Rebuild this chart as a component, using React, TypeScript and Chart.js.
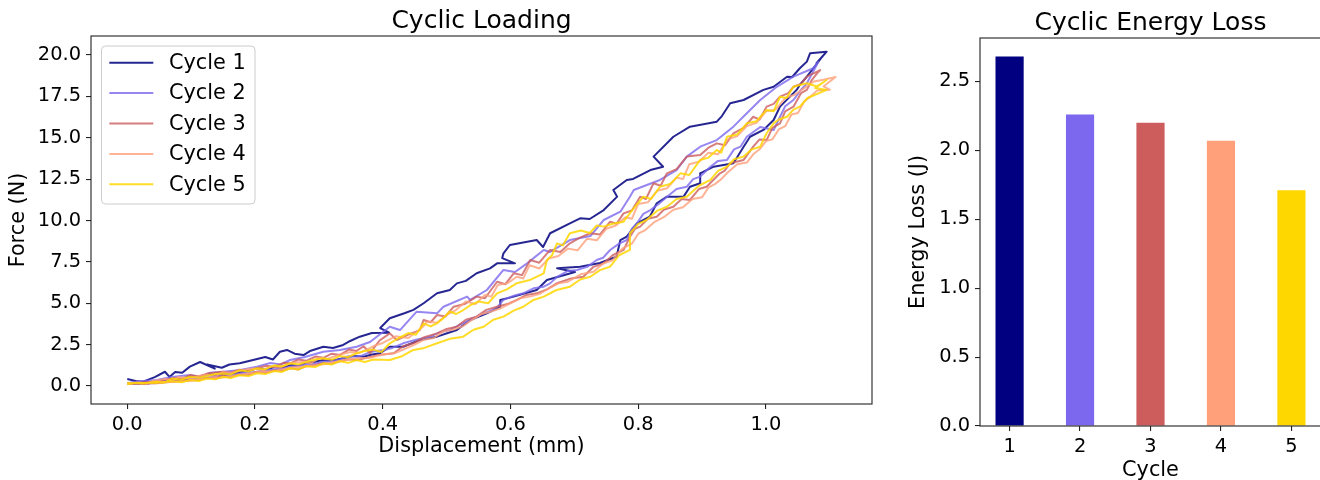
import React, { useEffect, useRef } from 'react';
import { Chart, registerables } from 'chart.js';

Chart.register(...registerables);

const FONT = '"DejaVu Sans", "Liberation Sans", sans-serif';

// ---------- data ----------
const cycleLabels = ['Cycle 1', 'Cycle 2', 'Cycle 3', 'Cycle 4', 'Cycle 5'];
const cycleColors = [
  'rgba(0,0,128,0.85)',
  'rgba(123,104,238,0.8)',
  'rgba(205,92,92,0.8)',
  'rgba(255,160,122,0.8)',
  'rgba(255,215,0,0.85)',
];

const cycle1Loading: [number, number][] = [
  [0.000, 0.42], [0.013, 0.30], [0.025, 0.26], [0.043, 0.54], [0.059, 0.86], [0.066, 0.55], [0.075, 0.85],
  [0.086, 0.80], [0.098, 1.17], [0.114, 1.45], [0.137, 1.05], [0.125, 1.30], [0.148, 1.10], [0.160, 1.30],
  [0.176, 1.37], [0.197, 1.57], [0.216, 1.75], [0.228, 1.60], [0.239, 2.07], [0.250, 2.18], [0.262, 1.95],
  [0.276, 1.87], [0.286, 2.11], [0.307, 2.37], [0.322, 2.30], [0.338, 2.48], [0.349, 2.72], [0.364, 2.98],
  [0.383, 3.20], [0.410, 3.22], [0.396, 3.50], [0.411, 4.09], [0.435, 4.41], [0.448, 4.60], [0.464, 5.00],
  [0.485, 5.60], [0.505, 5.80], [0.516, 6.20], [0.530, 6.35], [0.547, 6.81], [0.568, 7.11], [0.579, 7.41],
  [0.607, 7.41], [0.587, 7.73], [0.589, 8.02], [0.599, 8.52], [0.641, 8.82], [0.651, 8.40], [0.662, 9.23],
  [0.693, 9.83], [0.709, 10.13], [0.724, 10.09], [0.746, 10.63], [0.767, 11.44], [0.761, 11.84], [0.782, 12.45],
  [0.792, 12.51], [0.819, 13.05], [0.839, 13.25], [0.824, 13.86], [0.855, 15.06], [0.881, 15.67], [0.923, 15.97],
  [0.931, 16.31], [0.944, 17.08], [0.965, 17.28], [0.996, 17.89], [1.012, 18.08], [1.033, 18.69], [1.041, 18.67],
  [1.053, 19.20], [1.064, 19.60], [1.069, 20.10], [1.095, 20.20],
];
const cycle1Unloading: [number, number][] = [
  [1.079, 19.50], [1.089, 19.94], [1.064, 18.69], [1.053, 18.19], [1.048, 17.89], [1.022, 16.88], [1.012, 16.07],
  [0.996, 15.47], [0.975, 15.06], [0.965, 14.46], [0.949, 13.46], [0.918, 13.25], [0.897, 12.85], [0.897, 12.25],
  [0.881, 12.04], [0.871, 11.44], [0.845, 11.44], [0.829, 11.04], [0.818, 10.23], [0.798, 9.83], [0.782, 9.02],
  [0.772, 8.82], [0.766, 7.81], [0.740, 7.43], [0.709, 7.21], [0.673, 7.11], [0.701, 6.89], [0.657, 6.40],
  [0.641, 5.80], [0.605, 5.40], [0.584, 5.20], [0.584, 4.79], [0.563, 4.39], [0.537, 3.99], [0.516, 3.38],
  [0.485, 2.98], [0.458, 2.78], [0.432, 2.37], [0.411, 2.37], [0.396, 1.98], [0.383, 1.90], [0.370, 1.77],
  [0.355, 1.82], [0.340, 1.70], [0.323, 1.55], [0.307, 1.57], [0.292, 1.45], [0.280, 1.40], [0.268, 1.22],
  [0.255, 1.27], [0.242, 1.10], [0.230, 1.15], [0.216, 0.98], [0.203, 1.07], [0.190, 0.90], [0.175, 0.85],
  [0.162, 0.72], [0.150, 0.77], [0.138, 0.62], [0.125, 0.70], [0.110, 0.52], [0.098, 0.56], [0.085, 0.38],
  [0.070, 0.40], [0.058, 0.30], [0.046, 0.26], [0.030, 0.14], [0.009, 0.16],
];

const cycle2Loading: [number, number][] = [
  [0.004, 0.20], [0.025, 0.30], [0.046, 0.36], [0.070, 0.55], [0.098, 0.66], [0.114, 0.54], [0.130, 0.80],
  [0.150, 0.86], [0.175, 0.95], [0.203, 1.17], [0.224, 1.39], [0.240, 1.30], [0.255, 1.57], [0.278, 1.75],
  [0.307, 2.07], [0.333, 2.18], [0.359, 2.37], [0.380, 2.66], [0.411, 3.58], [0.427, 3.38], [0.453, 4.49],
  [0.485, 4.39], [0.495, 4.79], [0.532, 5.40], [0.537, 5.20], [0.563, 5.80], [0.589, 7.01], [0.607, 6.89],
  [0.626, 7.41], [0.652, 8.22], [0.662, 8.10], [0.693, 8.82], [0.725, 9.06], [0.746, 10.03], [0.772, 10.53],
  [0.787, 11.44], [0.793, 11.84], [0.834, 12.45], [0.860, 13.05], [0.876, 13.86], [0.897, 14.46], [0.923, 14.86],
  [0.949, 15.67], [0.970, 16.48], [0.991, 17.28], [1.017, 18.08], [1.043, 18.69], [1.074, 19.20], [1.082, 19.58],
];
const cycle2Unloading: [number, number][] = [
  [1.064, 18.29], [1.055, 17.90], [1.043, 17.28], [1.030, 16.90], [1.022, 16.27], [1.012, 15.47], [0.991, 15.65],
  [0.970, 15.06], [0.960, 14.46], [0.950, 14.30], [0.939, 13.66], [0.925, 13.60], [0.913, 13.25], [0.897, 12.65],
  [0.886, 12.50], [0.876, 12.04], [0.860, 11.90], [0.845, 11.44], [0.832, 11.00], [0.819, 10.63], [0.808, 10.40],
  [0.798, 9.83], [0.790, 9.50], [0.782, 8.82], [0.770, 8.60], [0.756, 8.22], [0.745, 7.75], [0.735, 7.61],
  [0.720, 7.20], [0.704, 7.01], [0.690, 6.95], [0.673, 6.60], [0.662, 6.20], [0.652, 6.00], [0.636, 5.90],
  [0.620, 5.60], [0.605, 5.45], [0.589, 5.20], [0.580, 4.80], [0.573, 4.59], [0.555, 4.35], [0.537, 3.99],
  [0.520, 3.70], [0.505, 3.38], [0.490, 3.25], [0.474, 2.98], [0.452, 2.80], [0.432, 2.58], [0.415, 2.30],
  [0.401, 2.18], [0.380, 2.05], [0.368, 1.85], [0.359, 1.77], [0.346, 1.80], [0.333, 1.62], [0.320, 1.50],
  [0.307, 1.47], [0.294, 1.35], [0.280, 1.30], [0.268, 1.22], [0.255, 1.17], [0.242, 1.05], [0.230, 1.00],
  [0.216, 0.95], [0.203, 0.86], [0.190, 0.80], [0.175, 0.76], [0.162, 0.62], [0.150, 0.66], [0.135, 0.55],
  [0.120, 0.52], [0.098, 0.47], [0.085, 0.32], [0.070, 0.35], [0.046, 0.26], [0.009, 0.12],
];

const cycle3Loading: [number, number][] = [
  [0.000, 0.20], [0.015, 0.12], [0.025, 0.22], [0.046, 0.26], [0.060, 0.40], [0.075, 0.48], [0.085, 0.42],
  [0.098, 0.66], [0.112, 0.58], [0.125, 0.75], [0.150, 0.86], [0.162, 0.80], [0.175, 0.98], [0.190, 0.92],
  [0.203, 1.07], [0.218, 1.22], [0.230, 1.15], [0.245, 1.40], [0.255, 1.37], [0.268, 1.60], [0.280, 1.52],
  [0.295, 1.78], [0.307, 1.70], [0.320, 1.95], [0.333, 1.88], [0.347, 2.20], [0.359, 2.12], [0.370, 2.40],
  [0.380, 1.99], [0.395, 2.75], [0.411, 3.18], [0.422, 2.78], [0.440, 3.10], [0.458, 3.38], [0.464, 3.99],
  [0.475, 3.85], [0.485, 4.29], [0.498, 4.20], [0.511, 4.79], [0.528, 4.95], [0.547, 5.40], [0.560, 5.30],
  [0.579, 6.30], [0.592, 6.15], [0.605, 6.81], [0.618, 6.70], [0.631, 7.61], [0.645, 7.45], [0.662, 8.22],
  [0.678, 8.10], [0.693, 8.62], [0.708, 8.95], [0.725, 9.23], [0.740, 9.15], [0.756, 9.93], [0.766, 9.80],
  [0.777, 10.43], [0.790, 10.60], [0.803, 11.44], [0.812, 11.30], [0.824, 12.25], [0.835, 12.10], [0.845, 12.85],
  [0.860, 13.10], [0.876, 13.86], [0.897, 13.96], [0.910, 14.40], [0.923, 14.66], [0.936, 14.55], [0.949, 15.27],
  [0.965, 15.60], [0.980, 16.27], [0.990, 16.10], [1.001, 16.88], [1.012, 17.05], [1.022, 17.48], [1.035, 17.70],
  [1.043, 18.08], [1.055, 18.25], [1.064, 18.69], [1.085, 19.09],
];
const cycle3Unloading: [number, number][] = [
  [1.080, 18.89], [1.072, 18.50], [1.064, 17.89], [1.055, 17.70], [1.043, 16.88], [1.030, 16.60], [1.022, 15.87],
  [1.010, 15.60], [1.001, 14.86], [0.990, 14.90], [0.980, 14.46], [0.965, 13.66], [0.944, 13.46], [0.935, 13.00],
  [0.928, 12.85], [0.907, 12.04], [0.895, 11.90], [0.881, 11.24], [0.868, 11.30], [0.855, 10.83], [0.840, 10.65],
  [0.829, 10.23], [0.815, 10.10], [0.803, 9.63], [0.795, 9.50], [0.787, 9.02], [0.777, 8.22], [0.760, 7.90],
  [0.746, 7.41], [0.730, 7.20], [0.714, 6.60], [0.695, 6.50], [0.673, 6.21], [0.658, 5.85], [0.641, 5.60],
  [0.625, 5.50], [0.610, 5.20], [0.595, 4.95], [0.579, 4.79], [0.562, 4.60], [0.547, 4.19], [0.530, 4.00],
  [0.516, 3.58], [0.500, 3.45], [0.485, 3.18], [0.465, 2.95], [0.448, 2.58], [0.432, 2.40], [0.417, 1.98],
  [0.390, 1.85], [0.375, 1.70], [0.359, 1.57], [0.345, 1.62], [0.333, 1.50], [0.320, 1.35], [0.307, 1.37],
  [0.292, 1.25], [0.280, 1.20], [0.268, 1.00], [0.255, 1.07], [0.242, 0.92], [0.230, 0.95], [0.216, 0.80],
  [0.203, 0.86], [0.188, 0.65], [0.175, 0.70], [0.160, 0.52], [0.150, 0.66], [0.138, 0.45], [0.125, 0.50],
  [0.110, 0.35], [0.098, 0.36], [0.070, 0.25], [0.046, 0.16], [0.000, 0.12],
];

const cycle4Loading: [number, number][] = [
  [0.000, 0.15], [0.020, 0.22], [0.030, 0.12], [0.040, 0.30], [0.060, 0.42], [0.070, 0.30], [0.080, 0.55],
  [0.100, 0.45], [0.112, 0.60], [0.125, 0.70], [0.138, 0.58], [0.150, 0.85], [0.162, 0.78], [0.175, 0.90],
  [0.188, 1.02], [0.200, 1.05], [0.212, 0.95], [0.225, 1.20], [0.238, 1.12], [0.250, 1.30], [0.262, 1.42],
  [0.275, 1.45], [0.288, 1.38], [0.300, 1.70], [0.312, 1.62], [0.325, 1.80], [0.338, 1.95], [0.350, 2.05],
  [0.362, 1.98], [0.375, 2.20], [0.388, 2.45], [0.400, 2.60], [0.420, 3.00], [0.440, 2.90], [0.450, 3.20],
  [0.462, 3.55], [0.470, 3.90], [0.485, 3.82], [0.500, 4.30], [0.515, 4.60], [0.530, 5.10], [0.545, 4.95],
  [0.560, 5.50], [0.570, 5.40], [0.580, 6.10], [0.595, 6.20], [0.610, 6.60], [0.620, 6.50], [0.630, 7.30],
  [0.645, 7.10], [0.660, 7.70], [0.675, 7.85], [0.690, 8.30], [0.705, 8.20], [0.720, 8.90], [0.735, 8.80],
  [0.750, 9.50], [0.765, 9.70], [0.780, 10.20], [0.790, 10.10], [0.800, 11.00], [0.815, 11.10], [0.830, 11.80],
  [0.845, 11.95], [0.860, 12.60], [0.870, 12.50], [0.880, 13.40], [0.895, 13.55], [0.910, 14.10], [0.925, 14.00],
  [0.940, 14.90], [0.955, 15.10], [0.970, 15.70], [0.985, 15.90], [1.000, 16.60], [1.015, 16.70], [1.030, 17.40],
  [1.045, 17.60], [1.060, 18.00], [1.075, 18.40], [1.090, 18.50], [1.109, 18.67],
];
const cycle4Unloading: [number, number][] = [
  [1.090, 18.10], [1.100, 17.90], [1.080, 17.85], [1.070, 17.50], [1.060, 17.20], [1.050, 16.50], [1.040, 16.40],
  [1.030, 15.70], [1.020, 15.50], [1.010, 14.90], [1.000, 14.80], [0.990, 14.30], [0.980, 14.00], [0.970, 13.50],
  [0.955, 13.40], [0.940, 12.90], [0.930, 12.50], [0.920, 12.20], [0.910, 12.00], [0.900, 11.40], [0.885, 11.30],
  [0.870, 10.80], [0.855, 10.65], [0.840, 10.20], [0.825, 9.90], [0.810, 9.40], [0.800, 9.20], [0.790, 8.60],
  [0.775, 8.30], [0.760, 7.60], [0.745, 7.40], [0.730, 6.90], [0.710, 6.75], [0.690, 6.30], [0.675, 6.20],
  [0.660, 5.90], [0.645, 5.55], [0.630, 5.40], [0.615, 5.30], [0.600, 5.00], [0.585, 4.70], [0.570, 4.50],
  [0.555, 4.35], [0.540, 4.00], [0.525, 3.60], [0.510, 3.40], [0.495, 3.30], [0.480, 2.90], [0.465, 2.80],
  [0.450, 2.50], [0.435, 2.25], [0.420, 2.00], [0.400, 1.90], [0.380, 1.70], [0.355, 1.65], [0.330, 1.50],
  [0.305, 1.30], [0.280, 1.20], [0.255, 1.10], [0.230, 0.90], [0.205, 0.85], [0.180, 0.70], [0.150, 0.52],
  [0.120, 0.45], [0.095, 0.30], [0.070, 0.25], [0.045, 0.22], [0.020, 0.15],
];

const cycle5Loading: [number, number][] = [
  [0.000, 0.10], [0.012, 0.18], [0.025, 0.15], [0.046, 0.26], [0.058, 0.20], [0.070, 0.45], [0.085, 0.38],
  [0.098, 0.56], [0.112, 0.50], [0.125, 0.60], [0.138, 0.72], [0.150, 0.76], [0.162, 0.70], [0.175, 0.95],
  [0.190, 0.88], [0.203, 1.07], [0.216, 1.00], [0.230, 1.25], [0.242, 1.18], [0.255, 1.37], [0.268, 1.30],
  [0.280, 1.45], [0.294, 1.60], [0.307, 1.67], [0.320, 1.58], [0.333, 1.80], [0.346, 1.75], [0.359, 1.98],
  [0.372, 2.12], [0.385, 2.20], [0.398, 2.05], [0.411, 2.58], [0.425, 2.90], [0.440, 3.20], [0.452, 3.10],
  [0.464, 3.78], [0.475, 3.60], [0.485, 3.79], [0.495, 4.10], [0.505, 4.50], [0.515, 4.35], [0.526, 4.59],
  [0.538, 4.90], [0.550, 5.10], [0.565, 5.00], [0.579, 5.60], [0.595, 5.85], [0.610, 6.21], [0.630, 6.40],
  [0.652, 6.81], [0.657, 7.61], [0.665, 7.90], [0.673, 8.62], [0.682, 8.50], [0.693, 9.23], [0.710, 9.40],
  [0.724, 9.24], [0.735, 9.70], [0.746, 9.63], [0.760, 9.80], [0.777, 9.93], [0.790, 10.60], [0.808, 11.44],
  [0.820, 11.30], [0.834, 12.04], [0.850, 12.20], [0.866, 12.85], [0.880, 12.75], [0.897, 13.66], [0.910, 13.80],
  [0.923, 14.26], [0.930, 14.10], [0.939, 15.06], [0.955, 15.20], [0.970, 15.87], [0.985, 16.00], [1.001, 16.68],
  [1.012, 16.60], [1.022, 17.48], [1.032, 17.40], [1.043, 18.08], [1.064, 18.29], [1.080, 18.10], [1.095, 18.49],
];
const cycle5Unloading: [number, number][] = [
  [1.077, 18.00], [1.095, 17.89], [1.065, 17.40], [1.053, 16.88], [1.043, 16.70], [1.033, 16.27], [1.020, 16.10],
  [1.012, 15.87], [1.001, 15.27], [0.991, 14.46], [0.978, 14.30], [0.965, 13.86], [0.950, 13.70], [0.939, 13.25],
  [0.925, 13.00], [0.913, 12.45], [0.895, 12.10], [0.876, 11.44], [0.860, 11.30], [0.845, 10.83], [0.830, 10.60],
  [0.813, 10.03], [0.800, 9.80], [0.787, 9.23], [0.787, 8.22], [0.770, 7.90], [0.756, 7.21], [0.740, 7.00],
  [0.725, 6.60], [0.710, 6.45], [0.693, 6.00], [0.672, 5.80], [0.652, 5.40], [0.636, 5.20], [0.620, 4.79],
  [0.605, 4.55], [0.589, 4.19], [0.573, 4.00], [0.558, 3.58], [0.542, 3.40], [0.526, 2.98], [0.505, 2.85],
  [0.485, 2.58], [0.465, 2.30], [0.448, 2.18], [0.430, 1.80], [0.411, 1.57], [0.385, 1.60], [0.372, 1.45],
  [0.359, 1.57], [0.346, 1.40], [0.333, 1.50], [0.320, 1.30], [0.307, 1.37], [0.294, 1.15], [0.280, 1.20],
  [0.268, 1.00], [0.255, 1.07], [0.242, 0.85], [0.230, 0.90], [0.216, 0.72], [0.203, 0.77], [0.190, 0.60],
  [0.175, 0.65], [0.162, 0.48], [0.150, 0.56], [0.138, 0.40], [0.125, 0.45], [0.112, 0.30], [0.098, 0.36],
  [0.085, 0.22], [0.070, 0.28], [0.046, 0.20], [0.000, 0.16],
];

const cycleLoading = [cycle1Loading, cycle2Loading, cycle3Loading, cycle4Loading, cycle5Loading];
const cycleUnloading = [cycle1Unloading, cycle2Unloading, cycle3Unloading, cycle4Unloading, cycle5Unloading];

const barCycles = [1, 2, 3, 4, 5];
const energyLoss = [2.68, 2.26, 2.2, 2.07, 1.71];
const barColors = ['#000080', '#7B68EE', '#CD5C5C', '#FFA07A', '#FFD700'];

const displacementTicks = [0, 0.2, 0.4, 0.6, 0.8, 1.0];
const forceTicks = [0, 2.5, 5, 7.5, 10, 12.5, 15, 17.5, 20];
const energyTicks = [0, 0.5, 1.0, 1.5, 2.0, 2.5];

// ---------- helpers ----------
const TICK_SIZE = 19.4;
const LABEL_SIZE = 20.8;
const TITLE_SIZE = 25;

function framePlugin(title: string, baselineOffset: number) {
  return {
    id: 'frameTitle',
    afterDraw(chart: any) {
      const { ctx, chartArea } = chart;
      ctx.save();
      ctx.strokeStyle = '#222';
      ctx.lineWidth = 1.1;
      ctx.strokeRect(chartArea.left, chartArea.top, chartArea.right - chartArea.left, chartArea.bottom - chartArea.top);
      ctx.fillStyle = '#000';
      ctx.font = `${TITLE_SIZE}px ${FONT}`;
      ctx.textAlign = 'center';
      ctx.textBaseline = 'alphabetic';
      ctx.fillText(title, (chartArea.left + chartArea.right) / 2, chartArea.top - baselineOffset);
      ctx.restore();
    },
  };
}

const legendPlugin = {
  id: 'mplLegend',
  afterDraw(chart: any) {
    const { ctx, chartArea } = chart;
    const x0 = chartArea.left + 10.5;
    const y0 = chartArea.top + 10;
    const w = 153.5;
    const h = 158;
    const r = 4;
    ctx.save();
    ctx.beginPath();
    ctx.moveTo(x0 + r, y0);
    ctx.lineTo(x0 + w - r, y0);
    ctx.quadraticCurveTo(x0 + w, y0, x0 + w, y0 + r);
    ctx.lineTo(x0 + w, y0 + h - r);
    ctx.quadraticCurveTo(x0 + w, y0 + h, x0 + w - r, y0 + h);
    ctx.lineTo(x0 + r, y0 + h);
    ctx.quadraticCurveTo(x0, y0 + h, x0, y0 + h - r);
    ctx.lineTo(x0, y0 + r);
    ctx.quadraticCurveTo(x0, y0, x0 + r, y0);
    ctx.closePath();
    ctx.fillStyle = 'rgba(255,255,255,0.8)';
    ctx.fill();
    ctx.strokeStyle = '#cccccc';
    ctx.lineWidth = 1;
    ctx.stroke();
    ctx.font = `${LABEL_SIZE}px ${FONT}`;
    ctx.textAlign = 'left';
    ctx.textBaseline = 'middle';
    chart.data.datasets.forEach((ds: any, i: number) => {
      const y = y0 + 16.7 + i * 30.4;
      ctx.strokeStyle = ds.borderColor;
      ctx.lineWidth = 2;
      ctx.beginPath();
      ctx.moveTo(x0 + 7.8, y);
      ctx.lineTo(x0 + 51.8, y);
      ctx.stroke();
      ctx.fillStyle = '#000';
      ctx.fillText(ds.label, x0 + 67.5, y + 1);
    });
    ctx.restore();
  },
};

const tickFont = { family: FONT, size: TICK_SIZE };
const labelFont = { family: FONT, size: LABEL_SIZE };
const gridOpts = { drawOnChartArea: false, drawTicks: true, tickLength: 5, color: '#222', lineWidth: 1.1 };

export default function App() {
  const leftRef = useRef<HTMLCanvasElement>(null);
  const rightRef = useRef<HTMLCanvasElement>(null);

  useEffect(() => {
    const lineDatasets = cycleLabels.map((label, i) => ({
      label,
      data: [...cycleLoading[i], ...cycleUnloading[i]].map(([x, y]) => ({ x, y })),
      borderColor: cycleColors[i],
      backgroundColor: cycleColors[i],
      borderWidth: 2,
      pointRadius: 0,
      showLine: true,
      tension: 0,
      fill: false,
      borderJoinStyle: 'round' as const,
      order: cycleLabels.length - i,
    }));

    const c1 = new Chart(leftRef.current!, {
      type: 'scatter',
      data: { datasets: lineDatasets as any },
      options: {
        responsive: false,
        animation: false,
        events: [],
        layout: { padding: { top: 36, right: 8, left: 0, bottom: 0 } },
        plugins: { legend: { display: false }, title: { display: false }, tooltip: { enabled: false } },
        scales: {
          x: {
            type: 'linear',
            min: -0.0568,
            max: 1.166,
            afterBuildTicks: (s: any) => {
              s.ticks = displacementTicks.map((v) => ({ value: v }));
            },
            afterFit: (s: any) => {
              s.height = 76;
            },
            ticks: {
              font: tickFont,
              color: '#000',
              padding: 4,
              maxRotation: 0,
              autoSkip: false,
              callback: (v: any) => Number(v).toFixed(1),
            },
            grid: gridOpts,
            border: { display: false },
            title: {
              display: true,
              text: 'Displacement (mm)',
              font: labelFont,
              color: '#000',
              padding: { top: 0, bottom: 21 },
            },
          },
          y: {
            type: 'linear',
            min: -1.088,
            max: 21.148,
            afterBuildTicks: (s: any) => {
              s.ticks = forceTicks.map((v) => ({ value: v }));
            },
            afterFit: (s: any) => {
              s.width = 91;
            },
            ticks: {
              font: tickFont,
              color: '#000',
              padding: 5,
              autoSkip: false,
              callback: (v: any) => Number(v).toFixed(1),
            },
            grid: gridOpts,
            border: { display: false },
            title: {
              display: true,
              text: 'Force (N)',
              font: labelFont,
              color: '#000',
              padding: { top: 6, bottom: 0 },
            },
          },
        },
      },
      plugins: [framePlugin('Cyclic Loading', 8.3), legendPlugin],
    });

    const c2 = new Chart(rightRef.current!, {
      type: 'bar',
      data: {
        datasets: [
          {
            label: 'Energy Loss',
            data: barCycles.map((c, i) => ({ x: c, y: energyLoss[i] })),
            backgroundColor: barColors,
            borderWidth: 0,
            barPercentage: 0.4,
            categoryPercentage: 1,
          },
        ],
      },
      options: {
        responsive: false,
        animation: false,
        events: [],
        layout: { padding: { top: 38, right: 3, left: 0, bottom: 0 } },
        plugins: { legend: { display: false }, title: { display: false }, tooltip: { enabled: false } },
        scales: {
          x: {
            type: 'linear',
            min: 0.58,
            max: 5.42,
            offset: false,
            afterBuildTicks: (s: any) => {
              s.ticks = barCycles.map((v) => ({ value: v }));
            },
            afterFit: (s: any) => {
              s.height = 64;
            },
            ticks: {
              font: tickFont,
              color: '#000',
              padding: 4,
              maxRotation: 0,
              autoSkip: false,
              callback: (v: any) => String(v),
            },
            grid: { ...gridOpts, offset: false },
            border: { display: false },
            title: {
              display: true,
              text: 'Cycle',
              font: labelFont,
              color: '#000',
              padding: { top: 0, bottom: 7 },
            },
          },
          y: {
            type: 'linear',
            min: 0,
            max: 2.815,
            afterBuildTicks: (s: any) => {
              s.ticks = energyTicks.map((v) => ({ value: v }));
            },
            afterFit: (s: any) => {
              s.width = 100;
            },
            ticks: {
              font: tickFont,
              color: '#000',
              padding: 5,
              autoSkip: false,
              callback: (v: any) => Number(v).toFixed(1),
            },
            grid: gridOpts,
            border: { display: false },
            title: {
              display: true,
              text: 'Energy Loss (J)',
              font: labelFont,
              color: '#000',
              padding: { top: 26, bottom: 0 },
            },
          },
        },
      },
      plugins: [framePlugin('Cyclic Energy Loss', 8.3)],
    });

    return () => {
      c1.destroy();
      c2.destroy();
    };
  }, []);

  return (
    <div
      style={{
        position: 'absolute',
        left: 0,
        top: 0,
        width: 1320,
        height: 480,
        overflow: 'hidden',
        background: '#fff',
      }}
    >
      <canvas ref={leftRef} width={880} height={480} style={{ position: 'absolute', left: 0, top: 0 }} />
      <canvas ref={rightRef} width={444} height={490} style={{ position: 'absolute', left: 880, top: 0 }} />
    </div>
  );
}
